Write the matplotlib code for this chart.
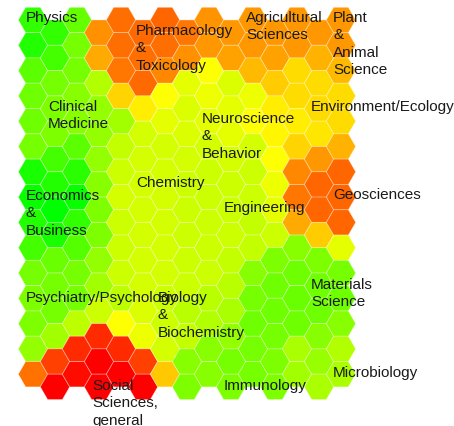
import numpy as np
import matplotlib
matplotlib.use("Agg")
import matplotlib.pyplot as plt
from matplotlib.colors import LinearSegmentedColormap, Normalize
from matplotlib.patches import RegularPolygon

plt.rcParams['font.family'] = ['Liberation Sans', 'DejaVu Sans']

# hue of every cell, one list per column, top to bottom (0 red, 60 yellow, 120 green)
col0 = [108, 112, 98, 94, 94, 92, 114, 118, 112, 104, 92, 90, 90, 85, 27]
col1 = [108, 104, 92, 90, 90, 104, 112, 120, 114, 95, 92, 92, 82, 15, 0]
col2 = [96, 92, 92, 88, 88, 98, 110, 118, 108, 100, 92, 92, 75, 10, 3]
col3 = [34, 40, 78, 85, 85, 85, 88, 90, 90, 85, 82, 72, 10, 0, 0]
col4 = [26, 26, 28, 50, 82, 74, 72, 70, 72, 72, 72, 75, 60, 10, 0]
col5 = [25, 26, 25, 56, 70, 70, 70, 70, 70, 70, 70, 68, 64, 15, 0]
col6 = [24, 26, 32, 60, 66, 70, 70, 70, 70, 70, 70, 72, 72, 70, 47]
col7 = [28, 34, 66, 68, 68, 70, 72, 72, 72, 72, 72, 76, 74, 88, 90]
col8 = [35, 36, 60, 64, 66, 70, 72, 72, 72, 72, 72, 76, 78, 88, 88]
col9 = [36, 38, 68, 66, 66, 70, 72, 72, 72, 74, 76, 80, 85, 92, 90]
col10 = [36, 36, 44, 64, 60, 70, 72, 72, 74, 74, 88, 92, 94, 92, 92]
col11 = [36, 38, 48, 56, 58, 60, 64, 66, 72, 90, 94, 94, 92, 90, 90]
col12 = [36, 36, 52, 52, 56, 50, 32, 28, 40, 88, 94, 95, 94, 80, 82]
col13 = [36, 42, 52, 52, 54, 36, 24, 24, 48, 90, 94, 94, 88, 84, 80]
col14 = [36, 36, 44, 52, 52, 42, 24, 24, 24, 66, 92, 94, 88, 78, 80]
columns = [col0, col1, col2, col3, col4, col5, col6, col7, col8, col9, col10, col11, col12, col13, col14]

names = ["Physics", "Pharmacology\n&\nToxicology", "Agricultural\nSciences",
         "Plant\n&\nAnimal\nScience", "Clinical\nMedicine", "Neuroscience\n&\nBehavior",
         "Environment/Ecology", "Chemistry", "Economics\n&\nBusiness", "Engineering",
         "Geosciences", "Materials\nScience", "Psychiatry/Psychology", "Biology\n&\nBiochemistry",
         "Social\nSciences,\ngeneral", "Immunology", "Microbiology"]
name_x = [26, 136, 246, 333, 48, 202, 311, 136, 26, 224, 333, 311, 26, 158, 92, 224, 333]
name_y = [22, 35, 22, 22, 111, 123, 111, 187, 200, 212, 199, 289, 302, 302, 390, 390, 377]

cmap = LinearSegmentedColormap.from_list("ryg", ["#ff0000", "#ffff00", "#00ff00"])
norm = Normalize(0, 120)

fig = plt.figure(figsize=(4.54, 4.27), dpi=100)
ax = fig.add_axes([0, 0, 1, 1])
ax.set_xlim(0, 454)
ax.set_ylim(427, 0)
ax.axis("off")

dx = 22
dy = 25.3
for i, col in enumerate(columns):
    for j, v in enumerate(col):
        cx = 33 + i*dx
        cy = 21 + j*dy + (dy/2 if i % 2 else 0)
        ax.add_patch(RegularPolygon((cx, cy), 6, radius=14.67, orientation=np.pi/2,
                                    facecolor=cmap(norm(v)), edgecolor="#ffffff60", linewidth=0.6))

for name, x, y in zip(names, name_x, name_y):
    for k, line in enumerate(name.split("\n")):
        ax.text(x, y + k*17.4, line, fontsize=11, color="#1a1a1a", va="baseline", ha="left")

fig.savefig("out.png", dpi=100)
